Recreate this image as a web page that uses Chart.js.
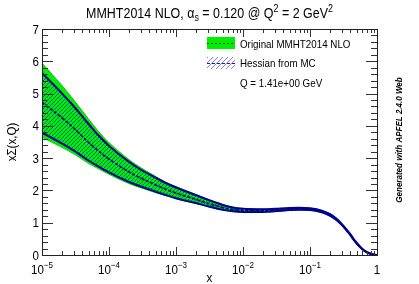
<!DOCTYPE html>
<html>
<head>
<meta charset="utf-8">
<script src="https://cdn.jsdelivr.net/npm/chart.js@4.4.1/dist/chart.umd.min.js"></script>
<style>
  html, body { margin: 0; padding: 0; background: #fff; }
  #wrap { width: 419px; height: 284px; }
</style>
</head>
<body>
<div id="wrap"><canvas id="pdfChart" width="419" height="284"></canvas></div>
<script>
// --- data ---
const xs = [1e-5, 2e-5, 3e-5, 5e-5, 7e-5, 1e-4, 2e-4, 3e-4, 5e-4, 7e-4, 1e-3, 2e-3, 3e-3, 5e-3, 7e-3,
            1e-2, 2e-2, 3e-2, 5e-2, 7e-2, 0.1, 0.15, 0.2, 0.25, 0.3, 0.35, 0.4, 0.45, 0.5, 0.6, 0.7, 0.8, 0.9, 1];
const origCentral = [4.75, 4.26, 3.93, 3.48, 3.22, 2.98, 2.57, 2.38, 2.17, 2.04, 1.92, 1.72, 1.60, 1.47, 1.41,
                     1.38, 1.37, 1.39, 1.42, 1.43, 1.42, 1.35, 1.24, 1.10, 0.94, 0.78, 0.63, 0.48, 0.36, 0.19, 0.09, 0.04, 0.01, 0];
const origUpper   = [5.94, 5.24, 4.79, 4.20, 3.82, 3.48, 2.95, 2.70, 2.43, 2.26, 2.12, 1.87, 1.72, 1.56, 1.48,
                     1.44, 1.42, 1.435, 1.46, 1.465, 1.45, 1.38, 1.27, 1.125, 0.96, 0.80, 0.65, 0.50, 0.38, 0.20, 0.10, 0.05, 0.015, 0];
const origLower   = [3.65, 3.33, 3.13, 2.83, 2.67, 2.50, 2.21, 2.08, 1.93, 1.84, 1.74, 1.59, 1.50, 1.39, 1.35,
                     1.33, 1.33, 1.35, 1.385, 1.40, 1.39, 1.32, 1.21, 1.075, 0.92, 0.76, 0.61, 0.46, 0.34, 0.18, 0.08, 0.03, 0.005, 0];
const mcCentral   = [4.72, 4.24, 3.92, 3.48, 3.22, 2.97, 2.57, 2.38, 2.17, 2.04, 1.92, 1.72, 1.60, 1.47, 1.41,
                     1.38, 1.37, 1.39, 1.42, 1.43, 1.42, 1.35, 1.24, 1.10, 0.94, 0.78, 0.63, 0.48, 0.36, 0.19, 0.09, 0.04, 0.01, 0];
const mcUpper     = [5.64, 5.00, 4.60, 4.05, 3.70, 3.38, 2.88, 2.64, 2.39, 2.23, 2.09, 1.85, 1.71, 1.55, 1.47,
                     1.43, 1.415, 1.43, 1.455, 1.46, 1.445, 1.375, 1.265, 1.12, 0.955, 0.795, 0.645, 0.495, 0.375, 0.197, 0.097, 0.047, 0.013, 0];
const mcLower     = [3.79, 3.45, 3.23, 2.92, 2.74, 2.56, 2.26, 2.12, 1.96, 1.86, 1.76, 1.61, 1.51, 1.40, 1.355,
                     1.335, 1.335, 1.355, 1.39, 1.40, 1.395, 1.325, 1.215, 1.08, 0.925, 0.765, 0.615, 0.465, 0.345, 0.183, 0.083, 0.033, 0.007, 0];

const xTickExps = [-5, -4, -3, -2, -1, 0];
const yTicks = [0, 1, 2, 3, 4, 5, 6, 7];
const legendLabels = ['Original MMHT2014 NLO', 'Hessian from MC', 'Q = 1.41e+00 GeV'];

const green = '#00ee00';
const navy = '#000090';
const fontFamily = '"Liberation Sans", Arial, sans-serif';
const narrow = 0.89; // reference font is a bit narrower than Arial

function pts(ys) { return xs.map((x, i) => ({ x: x, y: ys[i] })); }

// pixel-exact "/" hatch pattern
function makeHatch(color, n) {
    const c = document.createElement('canvas');
    c.width = n; c.height = n;
    const g = c.getContext('2d');
    g.fillStyle = color;
    for (let i = 0; i < n; i++) g.fillRect(i, n - 1 - i, 1, 1);
    return g.createPattern(c, 'repeat');
}
const hatch = makeHatch('rgba(0,40,200,0.7)', 4);

// narrow text helper
function txt(ctx, s, x, y, size, align, style) {
    ctx.save();
    ctx.font = (style ? style + ' ' : '') + size + 'px ' + fontFamily;
    const w = ctx.measureText(s).width * narrow;
    let x0 = x;
    if (align === 'center') x0 = x - w / 2;
    else if (align === 'right') x0 = x - w;
    ctx.translate(x0, y);
    ctx.scale(narrow, 1);
    ctx.textAlign = 'left';
    ctx.fillText(s, 0, 0);
    ctx.restore();
    return w;
}
function txtWidth(ctx, s, size) {
    ctx.save();
    ctx.font = size + 'px ' + fontFamily;
    const w = ctx.measureText(s).width * narrow;
    ctx.restore();
    return w;
}

// draws frame, ROOT-style inner ticks, labels, title and legend
const decorations = {
    id: 'decorations',
    afterDraw(chart) {
        const ctx = chart.ctx;
        const a = chart.chartArea;
        const sx = chart.scales.x, sy = chart.scales.y;
        ctx.save();
        ctx.strokeStyle = '#333';
        ctx.lineWidth = 1;

        // y ticks (left + right)
        ctx.beginPath();
        for (let v = 0; v <= 7.0001; v += 0.2) {
            const y = Math.round(sy.getPixelForValue(v)) + 0.5;
            const major = Math.abs(v - Math.round(v)) < 1e-6;
            const len = major ? 11 : 6;
            ctx.moveTo(a.left, y); ctx.lineTo(a.left + len, y);
            ctx.moveTo(a.right, y); ctx.lineTo(a.right - len, y);
        }
        // x ticks (bottom + top)
        for (let e = -5; e < 0; e++) {
            for (let m = 1; m <= 9; m++) {
                const x = Math.round(sx.getPixelForValue(m * Math.pow(10, e))) + 0.5;
                const len = m === 1 ? 8 : 4;
                ctx.moveTo(x, a.bottom); ctx.lineTo(x, a.bottom - len);
                ctx.moveTo(x, a.top); ctx.lineTo(x, a.top + len);
            }
        }
        ctx.stroke();

        // frame
        ctx.strokeStyle = '#222';
        ctx.strokeRect(Math.round(a.left) + 0.5, Math.round(a.top) + 0.5,
            Math.round(a.right - a.left), Math.round(a.bottom - a.top));

        ctx.fillStyle = '#000';
        ctx.textBaseline = 'alphabetic';
        // y tick labels
        yTicks.forEach(v => txt(ctx, String(v), a.left - 3, sy.getPixelForValue(v) + 4.5, 13, 'right'));

        // x tick labels with superscript exponent
        xTickExps.forEach(e => {
            const x = sx.getPixelForValue(Math.pow(10, e));
            const yb = a.bottom + 19;
            if (e === 0) { txt(ctx, '1', x, yb, 13, 'center'); return; }
            const sup = String(e).replace('-', '\u2212');
            const wBase = txtWidth(ctx, '10', 13);
            const wSup = txtWidth(ctx, sup, 9);
            const x0 = x - (wBase + wSup) / 2;
            txt(ctx, '10', x0, yb, 13, 'left');
            txt(ctx, sup, x0 + wBase, yb - 6, 9, 'left');
        });

        // axis titles
        txt(ctx, 'x', (a.left + a.right) / 2, 282, 13, 'center');
        ctx.save();
        ctx.translate(11, (a.top + a.bottom) / 2);
        ctx.rotate(-Math.PI / 2);
        txt(ctx, 'x\u03A3(x,Q)', 0, 4.5, 13, 'center');
        ctx.restore();

        // title with sub/superscripts
        const parts = [
            ['MMHT2014 NLO, \u03B1', 14, 0],
            ['s', 10, 3],
            [' = 0.120 @ Q', 14, 0],
            ['2', 10, -6],
            [' = 2 GeV', 14, 0],
            ['2', 10, -6]
        ];
        let total = 0;
        parts.forEach(p => { total += txtWidth(ctx, p[0], p[1]); });
        let tx = (a.left + a.right) / 2 - total / 2;
        parts.forEach(p => { tx += txt(ctx, p[0], tx, 18 + p[2], p[1], 'left'); });

        // legend
        const lx = 207, lw = 28;
        ctx.fillStyle = green;
        ctx.fillRect(lx, 37, lw, 12);
        ctx.strokeStyle = '#004400';
        ctx.setLineDash([2, 2]);
        ctx.beginPath(); ctx.moveTo(lx, 43.5); ctx.lineTo(lx + lw, 43.5); ctx.stroke();
        ctx.fillStyle = makeHatch('#8080ff', 5);
        ctx.fillRect(lx, 57, lw, 12);
        ctx.strokeStyle = '#2020a0';
        ctx.setLineDash([3, 2]);
        ctx.beginPath(); ctx.moveTo(lx, 63.5); ctx.lineTo(lx + lw, 63.5); ctx.stroke();
        ctx.setLineDash([]);
        ctx.fillStyle = '#000';
        txt(ctx, legendLabels[0], 240, 48, 11, 'left');
        txt(ctx, legendLabels[1], 240, 67, 11, 'left');
        txt(ctx, legendLabels[2], 240, 87, 11, 'left');

        // side note
        ctx.save();
        ctx.translate(402, 140);
        ctx.rotate(-Math.PI / 2);
        txt(ctx, 'Generated with APFEL 2.4.0 Web', 0, 0, 9, 'center', 'italic bold');
        ctx.restore();

        ctx.restore();
    }
};

new Chart(document.getElementById('pdfChart').getContext('2d'), {
    type: 'line',
    data: {
        datasets: [
            { label: 'mc central', data: pts(mcCentral), borderColor: navy, borderWidth: 1.5, borderDash: [3, 2], order: 0 },
            { label: 'mc upper', data: pts(mcUpper), borderColor: navy, borderWidth: 2, fill: '+1', backgroundColor: hatch, order: 1 },
            { label: 'mc lower', data: pts(mcLower), borderColor: navy, borderWidth: 2, order: 2 },
            { label: 'orig central', data: pts(origCentral), borderColor: '#006600', borderWidth: 1.5, borderDash: [2, 2], order: 3 },
            { label: 'orig upper', data: pts(origUpper), borderColor: '#00c000', borderWidth: 1, fill: '+1', backgroundColor: green, order: 4 },
            { label: 'orig lower', data: pts(origLower), borderColor: '#00c000', borderWidth: 1, order: 5 }
        ]
    },
    options: {
        responsive: false,
        animation: false,
        events: [],
        layout: { padding: { left: 42, right: 42, top: 29, bottom: 29 } },
        elements: {
            point: { radius: 0 },
            line: { cubicInterpolationMode: 'monotone' }
        },
        plugins: {
            legend: { display: false },
            tooltip: { enabled: false },
            filler: { propagate: false }
        },
        scales: {
            x: { type: 'logarithmic', min: 1e-5, max: 1, display: false },
            y: { type: 'linear', min: 0, max: 7, display: false }
        }
    },
    plugins: [decorations]
});
</script>
</body>
</html>
